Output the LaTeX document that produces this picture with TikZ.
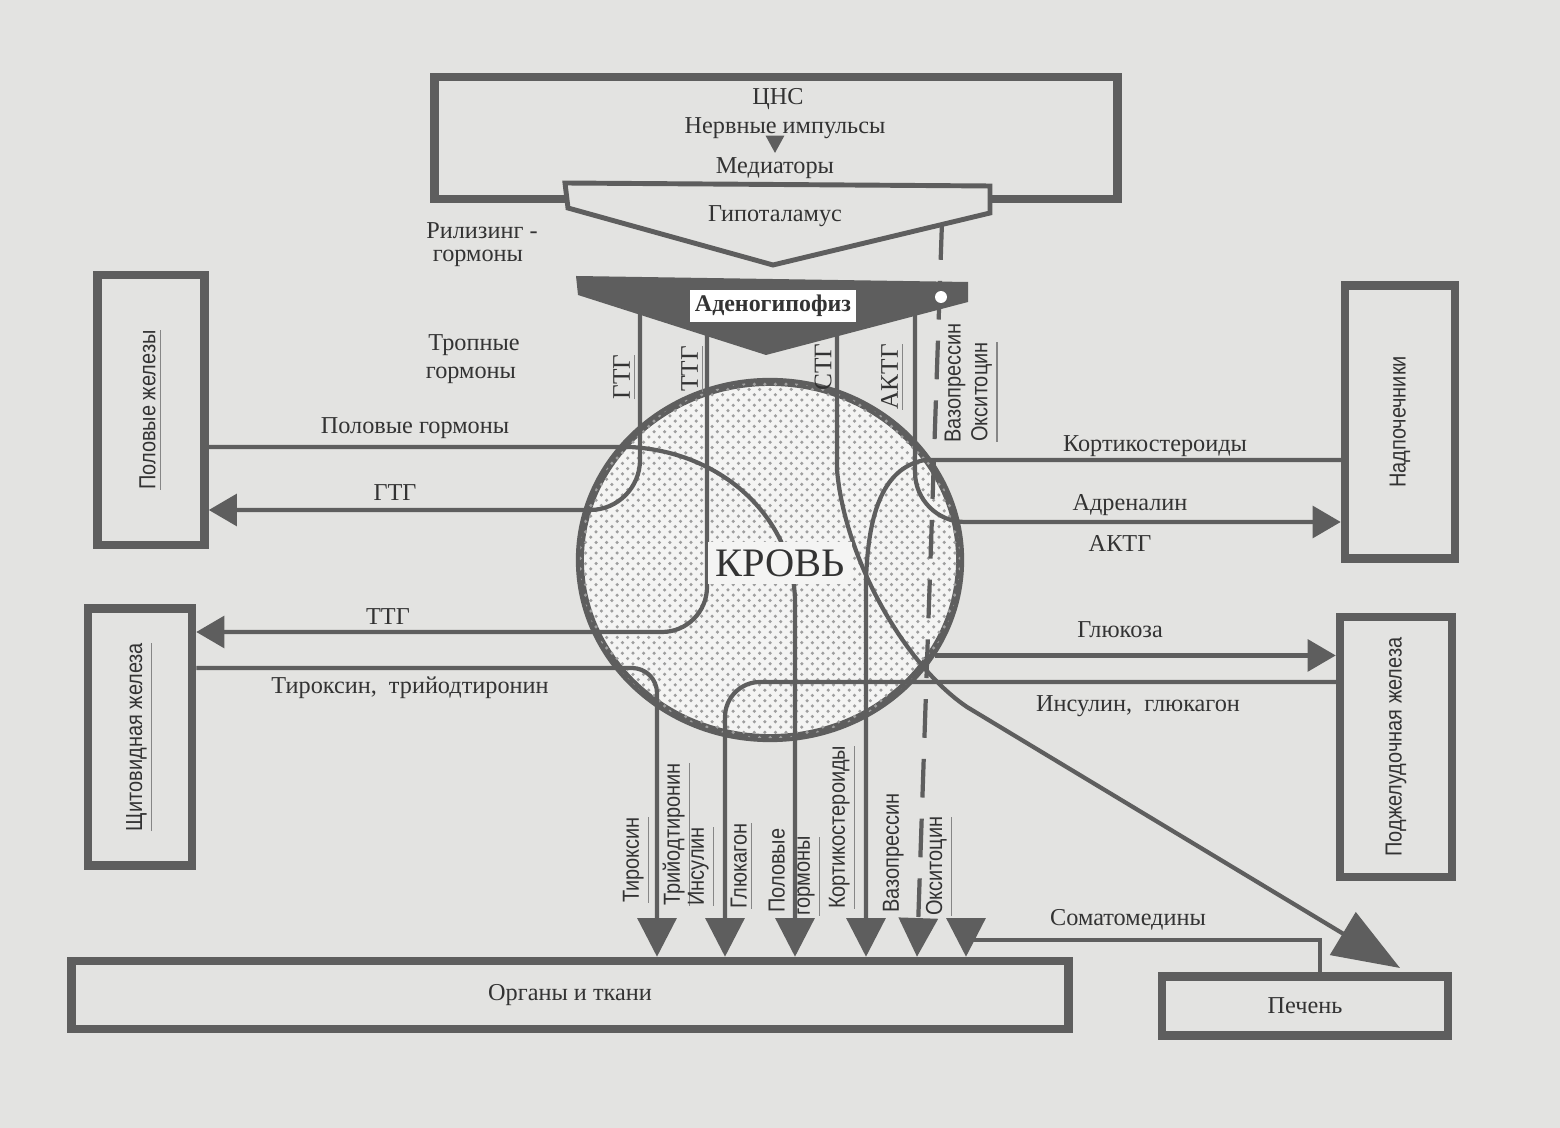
\documentclass[tikz,border=0pt]{standalone}
\usepackage{fontspec}
\setmainfont{Liberation Serif}
\setsansfont{Liberation Sans}
\newfontfamily\narrowsf{Liberation Sans}[FakeStretch=0.86]
\usetikzlibrary{arrows.meta,shapes.geometric,patterns}
\definecolor{paper}{HTML}{E3E3E1}
\definecolor{ink}{HTML}{5E5E5E}
\definecolor{inktext}{HTML}{333333}
\newcommand{\hul}[1]{{\color{ink!75}\underline{\color{inktext}#1}}}
\begin{document}
\begin{tikzpicture}[x=0.01cm, y=-0.01cm,
  organ/.style={draw=ink, line width=2.4pt, fill=paper, inner sep=0pt},
  txt/.style={text=inktext, font=\fontsize{6.9}{8}\selectfont, inner sep=1pt},
  vtxt/.style={rotate=90, text=inktext, font=\narrowsf\fontsize{6.6}{7}\selectfont, inner sep=1pt},
  vser/.style={rotate=90, text=inktext, font=\fontsize{7.2}{8}\selectfont, inner sep=1pt},
  hormone/.style={draw=ink, line width=1.2pt},
  down/.style={-{Triangle[width=11pt,length=11pt]}},
  side/.style={-{Triangle[width=9pt,length=8pt]}},
]
\useasboundingbox (0,0) rectangle (1560,1128);
\fill[paper] (0,0) rectangle (1560,1128);

\node[organ, minimum width=6.83cm, minimum height=1.22cm] (cns) at (776,138) {};
\node[organ, minimum width=1.07cm, minimum height=2.7cm] (gonads) at (151,410) {};
\node[organ, minimum width=1.04cm, minimum height=2.57cm] (thyroid) at (140,737) {};
\node[organ, minimum width=1.1cm, minimum height=2.73cm] (adrenal) at (1400,422) {};
\node[organ, minimum width=1.12cm, minimum height=2.6cm] (pancreas) at (1396,747) {};
\node[organ, minimum width=9.96cm, minimum height=0.68cm] (organs) at (570,995) {};
\node[organ, minimum width=2.86cm, minimum height=0.59cm] (liver) at (1305,1006) {};

\node[ellipse, draw=ink, line width=2.3pt, fill=paper!40!white, minimum width=3.8cm, minimum height=3.56cm,
  postaction={pattern=crosshatch dots, pattern color=black!38}] (blood) at (770,560) {};

\coordinate (gtgTop) at (640,300);
\coordinate (gtgBend) at (640,510);
\coordinate (ttgTop) at (707,300);
\coordinate (ttgBend) at (707,632);
\coordinate (stgTop) at (837,300);
\coordinate (stgBend) at (837,470);
\coordinate (stgEnd) at (1400,968);
\coordinate (actTop) at (915,300);
\coordinate (actBend) at (915,522);
\coordinate (shStart) at (630,447);
\coordinate (shDown) at (795,600);
\coordinate (thyBend) at (657,668);
\coordinate (insBend) at (725,682);
\coordinate (corStart) at (925,460);
\coordinate (corDown) at (866,580);
\coordinate (vasoFoot) at (917,700);
\coordinate (somaR) at (1320,940);
\coordinate (somaL) at (966,940);

\path[hormone, side, rounded corners=0.5cm] (gtgTop) -- (gtgBend) -- (gtgBend -| gonads.east);
\path[hormone, side, rounded corners=0.45cm] (ttgTop) -- (ttgBend) -- (ttgBend -| thyroid.east);
\path[hormone, side, rounded corners=0.5cm] (actTop) -- (actBend) -- (actBend -| adrenal.west);
\path[hormone, -{Triangle[width=14pt,length=19pt]}] (stgTop) -- (stgBend) .. controls (845,560) and (905,665) .. (967,707) -- (stgEnd);
\path[hormone, down] (gonads.east |- shStart) -- (shStart) .. controls (725,452) and (793,520) .. (shDown) -- (shDown |- organs.north);
\path[hormone, down, rounded corners=0.25cm] (thyBend -| thyroid.east) -- (thyBend) -- (thyBend |- organs.north);
\path[hormone, down, rounded corners=0.35cm] (insBend -| pancreas.west) -- (insBend) -- (insBend |- organs.north);
\path[hormone, down] (corStart -| adrenal.west) -- (corStart) .. controls (880,468) and (868,520) .. (corDown) -- (corDown |- organs.north);
\path[hormone, side] (blood.-30) -- (blood.-30 -| pancreas.west);
\path[hormone, down] (liver.north -| somaR) -- (somaR) -- (somaL) -- (somaL |- organs.north);

\node[circle, fill=ink, inner sep=0pt, minimum size=6.5pt] (vasoDot) at (942,209) {};
\path[hormone, down, dash pattern=on 11pt off 6pt] (vasoDot.south) -- (vasoFoot |- organs.north);

\draw[ink, line width=1.4pt, fill=paper] (565,183) -- (990,186) -- (990,213) -- (773,265) -- (568,208) -- cycle;
\fill[ink] (576,276) -- (968,282) -- (968,302) -- (766,355) -- (578,295) -- cycle;
\fill[white] (941,297) circle (1.7pt);
\node[fill=white, text=inktext, font=\bfseries\fontsize{6.8}{8}\selectfont, inner sep=1.5pt] (adenoLbl) at (773,306) {Аденогипофиз};

\node[fill=paper!40!white, text=inktext, font=\fontsize{11.5}{13}\selectfont, inner sep=2pt] (bloodLbl) at (780,563) {КРОВЬ};

\node[txt] (cnsLbl) at (778,99) {ЦНС};
\node[txt] (impulses) at (785,128) {Нервные импульсы};
\node[txt] (mediators) at (775,168) {Медиаторы};
\path[hormone, -{Triangle[width=5pt,length=5pt]}] (impulses.south -| mediators) -- (mediators.north);
\node[txt] (hypoLbl) at (775,216) {Гипоталамус};

\node[txt] (rel1) at (482,231) {Рилизинг -};
\node[txt] (rel2) at (478,258) {гормоны};
\node[txt] (trop1) at (474,345) {Тропные};
\node[txt] (trop2) at (471,375) {гормоны};

\node[vser] (gtgLbl) at (625,377) {\hul{ГТГ}};
\node[vser] (ttgLbl) at (693,369) {\hul{ТТГ}};
\node[vser] (stgLbl) at (823,367) {СТГ};
\node[vser] (actLbl) at (893,377) {\hul{АКТГ}};
\node[vtxt] (vasoLbl) at (955,383) {Вазопрессин};
\node[vtxt] (oxyLbl) at (985,392) {\hul{Окситоцин}};

\node[txt] (shLbl) at (415,428) {Половые гормоны};
\node[txt] (gtgSide) at (395,493) {ГТГ};
\node[txt] (ttgSide) at (388,617) {ТТГ};
\node[txt] (thyLbl) at (410,688) {Тироксин,\ \ трийодтиронин};
\node[txt] (corLbl) at (1155,446) {Кортикостероиды};
\node[txt] (adrLbl) at (1130,505) {Адреналин};
\node[txt] (actSide) at (1120,543) {АКТГ};
\node[txt] (gluLbl) at (1120,630) {Глюкоза};
\node[txt] (insLbl) at (1138,706) {Инсулин,\ \ глюкагон};
\node[txt] (somaLbl) at (1128,920) {Соматомедины};

\node[vtxt] at (gonads) {\hul{Половые железы}};
\node[vtxt] at (thyroid) {\hul{Щитовидная железа}};
\node[vtxt] at (adrenal) {Надпочечники};
\node[vtxt] at (pancreas) {Поджелудочная железа};
\node[txt] (organsLbl) at (organs) {Органы и ткани};
\node[txt] (liverLbl) at (liver) {Печень};

\node[vtxt, anchor=south west] (b1) at (655,907) {\hul{Тироксин}};
\node[vtxt, anchor=south west] (b2) at (696,910) {\hul{Трийодтиронин}};
\node[vtxt, anchor=south west] (b3) at (720,910) {\hul{Инсулин}};
\node[vtxt, anchor=south west] (b4) at (758,913) {\hul{Глюкагон}};
\node[vtxt, anchor=south west] (b5) at (789,917) {Половые};
\node[vtxt, anchor=south west] (b6) at (826,920) {\hul{гормоны}};
\node[vtxt, anchor=south west] (b7) at (861,913) {\hul{Кортикостероиды}};
\node[vtxt, anchor=south west] (b8) at (908,917) {Вазопрессин};
\node[vtxt, anchor=south west] (b9) at (958,920) {\hul{Окситоцин}};
\end{tikzpicture}
\end{document}
